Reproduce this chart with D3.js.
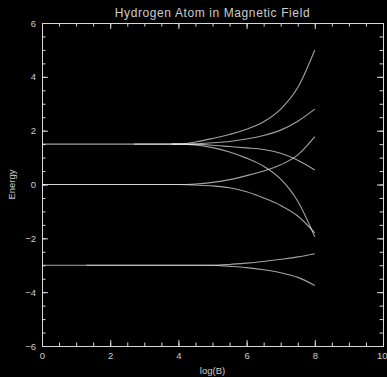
<!DOCTYPE html>
<html>
<head>
<meta charset="utf-8">
<script src="https://cdn.jsdelivr.net/npm/d3@7"></script>
<style>
  html, body { margin: 0; padding: 0; background: #000; }
  svg { display: block; }
</style>
</head>
<body>
<svg id="chart" width="387" height="377"></svg>
<script>
// ---- data ----
const title = "Hydrogen Atom in Magnetic Field";
const xLabel = "log(B)";
const yLabel = "Energy";
const xMajorTicks = [0, 2, 4, 6, 8, 10];
const yMajorTicks = [-6, -4, -2, 0, 2, 4, 6];

// each series: [log(B), energy] pairs
const levelA_up1   = [[0,1.5],[1,1.5],[2,1.5],[3,1.5],[4,1.5],[4.5,1.58],[5,1.71],[5.5,1.86],[6,2.05],[6.5,2.33],[7,2.8],[7.5,3.6],[8,5.0]];
const levelA_up2   = [[2.7,1.5],[3,1.5],[4,1.5],[4.5,1.51],[5,1.55],[5.5,1.6],[6,1.69],[6.5,1.82],[7,2.02],[7.5,2.35],[8,2.8]];
const levelA_down1 = [[3.8,1.5],[4,1.5],[4.5,1.49],[5,1.46],[5.5,1.41],[6,1.36],[6.5,1.3],[7,1.16],[7.5,0.9],[8,0.54]];
const levelA_down2 = [[3.8,1.5],[4,1.5],[4.5,1.47],[5,1.37],[5.5,1.21],[6,0.98],[6.5,0.68],[7,0.2],[7.5,-0.62],[8,-1.94]];
const levelB_up    = [[0,0],[1,0],[2,0],[3,0],[4,0],[4.5,0.02],[5,0.08],[5.5,0.18],[6,0.33],[6.5,0.5],[7,0.73],[7.5,1.1],[8,1.78]];
const levelB_down  = [[0,0],[1,0],[2,0],[3,0],[4,0],[4.5,-0.02],[5,-0.05],[5.5,-0.12],[6,-0.27],[6.5,-0.5],[7,-0.78],[7.5,-1.17],[8,-1.8]];
const levelC_up    = [[0,-3],[1,-3],[2,-3],[3,-3],[4,-3],[5,-3],[5.5,-2.97],[6,-2.92],[6.5,-2.86],[7,-2.78],[7.5,-2.69],[8,-2.57]];
const levelC_down  = [[1.3,-3],[2,-3],[3,-3],[4,-3],[5,-3],[5.5,-3.04],[6,-3.09],[6.5,-3.17],[7,-3.28],[7.5,-3.45],[8,-3.75]];

const series = [levelA_up1, levelA_up2, levelA_down1, levelA_down2,
                levelB_up, levelB_down, levelC_up, levelC_down];

// ---- layout ----
const svg = d3.select("#chart");
const mLeft = 42, mRight = 383, mTop = 23, mBottom = 346;
const x = d3.scaleLinear().domain([0, 10]).range([mLeft, mRight]);
const y = d3.scaleLinear().domain([-6, 6]).range([mBottom, mTop]);

svg.append("rect").attr("width", 387).attr("height", 377).attr("fill", "#000");

const axisColor = "#d8d8d8";
const textColor = "#cccccc";
const fontFam = "Liberation Sans, Arial, sans-serif";
const fmt = d => (d < 0 ? "\u2212" + Math.abs(d) : String(d));

const xMinor = d3.range(0, 10.001, 0.5);
const yMinor = d3.range(-6, 6.001, 0.5);

function styleAxis(g) {
  g.select(".domain").attr("stroke", axisColor).attr("stroke-width", 1);
  g.selectAll(".tick line").attr("stroke", axisColor).attr("stroke-width", 1);
  g.selectAll(".tick text").attr("fill", textColor)
    .attr("font-family", fontFam).attr("font-size", 9.5);
}

// minor ticks
svg.append("g").attr("transform", `translate(0,${mBottom})`)
  .call(d3.axisBottom(x).tickValues(xMinor).tickSize(-3.5).tickFormat(""))
  .call(styleAxis);
svg.append("g").attr("transform", `translate(0,${mTop})`)
  .call(d3.axisTop(x).tickValues(xMinor).tickSize(-3.5).tickFormat(""))
  .call(styleAxis);
svg.append("g").attr("transform", `translate(${mLeft},0)`)
  .call(d3.axisLeft(y).tickValues(yMinor).tickSize(-3.5).tickFormat(""))
  .call(styleAxis);
svg.append("g").attr("transform", `translate(${mRight},0)`)
  .call(d3.axisRight(y).tickValues(yMinor).tickSize(-3.5).tickFormat(""))
  .call(styleAxis);

// major ticks + labels
const xAxisG = svg.append("g").attr("transform", `translate(0,${mBottom})`)
  .call(d3.axisBottom(x).tickValues(xMajorTicks).tickSizeInner(-6).tickSizeOuter(0).tickPadding(6).tickFormat(fmt))
  .call(styleAxis);
svg.append("g").attr("transform", `translate(0,${mTop})`)
  .call(d3.axisTop(x).tickValues(xMajorTicks).tickSizeInner(-6).tickSizeOuter(0).tickFormat(""))
  .call(styleAxis);
svg.append("g").attr("transform", `translate(${mLeft},0)`)
  .call(d3.axisLeft(y).tickValues(yMajorTicks).tickSizeInner(-6).tickSizeOuter(0).tickPadding(6).tickFormat(fmt))
  .call(styleAxis);
svg.append("g").attr("transform", `translate(${mRight},0)`)
  .call(d3.axisRight(y).tickValues(yMajorTicks).tickSizeInner(-6).tickSizeOuter(0).tickFormat(""))
  .call(styleAxis);
// keep the last x label inside the picture edge
xAxisG.selectAll(".tick text").filter(d => d === 10).attr("text-anchor", "end").attr("dx", 4);

// curves
const line = d3.line().x(d => x(d[0])).y(d => y(d[1])).curve(d3.curveMonotoneX);
svg.append("g").selectAll("path").data(series).join("path")
  .attr("d", line)
  .attr("fill", "none")
  .attr("stroke", "#f0f0f0")
  .attr("stroke-opacity", 0.68)
  .attr("stroke-width", 1.1);

// texts
svg.append("text").attr("x", 212.5).attr("y", 17).attr("text-anchor", "middle")
  .attr("fill", textColor).attr("font-family", fontFam)
  .attr("font-size", 12).attr("letter-spacing", 0.6).text(title);
svg.append("text").attr("x", x(5)).attr("y", 374).attr("text-anchor", "middle")
  .attr("fill", textColor).attr("font-family", fontFam)
  .attr("font-size", 9.5).text(xLabel);
svg.append("text").attr("transform", `translate(15,${y(0)}) rotate(-90)`).attr("text-anchor", "middle")
  .attr("fill", textColor).attr("font-family", fontFam)
  .attr("font-size", 9.5).text(yLabel);
</script>
</body>
</html>
